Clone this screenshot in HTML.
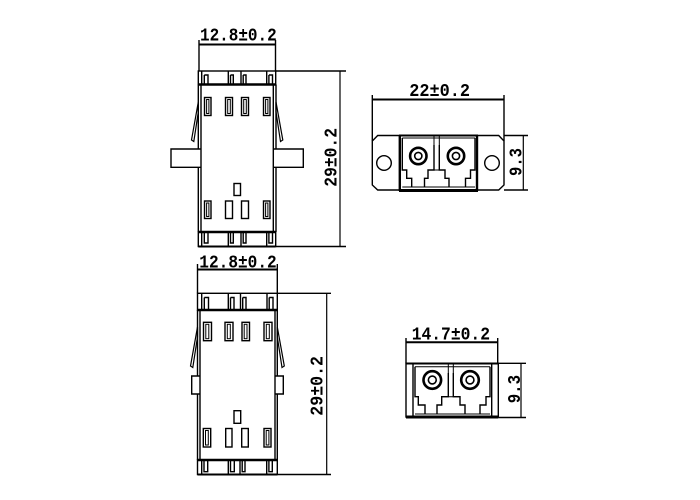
<!DOCTYPE html>
<html><head><meta charset="utf-8"><style>
html,body{margin:0;padding:0;background:#fff;}
svg{display:block;}
text{font-family:"Liberation Mono","DejaVu Sans Mono",monospace;font-size:18px;font-weight:bold;fill:#000;}
</style></head><body>
<svg width="700" height="500" viewBox="0 0 700 500" xmlns="http://www.w3.org/2000/svg">
<rect x="0" y="0" width="700" height="500" fill="#fff"/>

<!-- ================= VIEW A (top-left) ================= -->
<g fill="none" stroke="#000" stroke-width="1.4">
  <!-- dimension 12.8 -->
  <line x1="199" y1="40" x2="199" y2="71"/>
  <line x1="275.5" y1="40" x2="275.5" y2="71"/>
  <line x1="199" y1="44.5" x2="275.5" y2="44.5" stroke-width="2"/>
  <!-- top band -->
  <rect x="198.3" y="71" width="77.4" height="13.5"/>
  <line x1="198.3" y1="84.5" x2="275.7" y2="84.5" stroke-width="2.6"/>
  <!-- top notches -->
  <path d="M201.7,71.5 V84 M204.3,75 H208 V84 M204.3,75 V84"/>
  <path d="M228.3,71.5 V84 M230.5,75 H233.3 V84 M230.5,75 V84"/>
  <path d="M241,71.5 V84 M243.2,75 H246 V84 M243.2,75 V84"/>
  <path d="M266.7,71.5 V84 M268.9,75 H272.5 V84 M268.9,75 V84"/>
  <!-- body sides -->
  <path d="M198.3,84.5 V149 M198.3,167.3 V232"/>
  <path d="M201,84.5 V232"/>
  <path d="M276,84.5 V149 M276,167.3 V232"/>
  <path d="M273.3,84.5 V232"/>
  <!-- flanges -->
  <path d="M201,149 H171 V167.3 H201"/>
  <path d="M273.3,149 H303.3 V167.3 H273.3"/>
  <!-- clip arms -->
  <polygon points="198.3,102 191.5,140 193.8,141.5 198.3,112" stroke-width="1.2"/>
  <polygon points="276,102 282.8,140 280.5,141.5 276,112" stroke-width="1.2"/>
  <!-- slots top -->
  <rect x="204.5" y="97.5" width="6.5" height="18"/><rect x="206.6" y="99.5" width="2.3" height="14" stroke-width="1"/>
  <rect x="225.5" y="97.5" width="7" height="18"/><rect x="227.7" y="99.5" width="2.6" height="14" stroke-width="1"/>
  <rect x="241.5" y="97.5" width="7" height="18"/><rect x="243.7" y="99.5" width="2.6" height="14" stroke-width="1"/>
  <rect x="263.5" y="97.5" width="6.5" height="18"/><rect x="265.6" y="99.5" width="2.3" height="14" stroke-width="1"/>
  <!-- center small rect -->
  <rect x="234" y="183.5" width="6.5" height="12"/>
  <!-- slots bottom -->
  <rect x="204.5" y="201" width="6.5" height="17.5"/><rect x="206.6" y="203" width="2.3" height="13.5" stroke-width="1"/>
  <rect x="225.5" y="201" width="7" height="17.5"/>
  <rect x="241.5" y="201" width="7" height="17.5"/>
  <rect x="263.5" y="201" width="6.5" height="17.5"/><rect x="265.6" y="203" width="2.3" height="13.5" stroke-width="1"/>
  <!-- bottom band -->
  <rect x="198.3" y="232" width="77.4" height="14.5"/>
  <line x1="198.3" y1="232" x2="275.7" y2="232" stroke-width="2.6"/>
  <line x1="198.3" y1="246.5" x2="275.7" y2="246.5" stroke-width="2"/>
  <path d="M201.7,232 V245.5 M204.3,232 V243 H208 V232"/>
  <path d="M228.3,232 V245.5 M230.5,232 V243 H233.3 V232"/>
  <path d="M241,232 V245.5 M243.2,232 V243 H246 V232"/>
  <path d="M266.7,232 V245.5 M268.9,232 V243 H272.5 V232"/>
  <!-- dimension 29 -->
  <line x1="276" y1="71" x2="346" y2="71"/>
  <line x1="276" y1="246.5" x2="346" y2="246.5"/>
  <line x1="340" y1="71" x2="340" y2="246.5" stroke-width="1.2"/>
</g>
<text x="200" y="40.3" textLength="76.7" lengthAdjust="spacingAndGlyphs">12.8±0.2</text>
<text transform="translate(336.5,186.7) rotate(-90)" x="0" y="0" textLength="58.7" lengthAdjust="spacingAndGlyphs">29±0.2</text>

<!-- ================= VIEW B (bottom-left) ================= -->
<g fill="none" stroke="#000" stroke-width="1.4">
  <line x1="197.5" y1="264" x2="197.5" y2="293.3"/>
  <line x1="277.3" y1="264" x2="277.3" y2="293.3"/>
  <line x1="197.5" y1="269.5" x2="277.3" y2="269.5" stroke-width="2"/>
  <!-- top band -->
  <rect x="197.5" y="293.3" width="79.8" height="16.7"/>
  <line x1="197.5" y1="310" x2="277.3" y2="310" stroke-width="2.6"/>
  <path d="M201.7,294 V309 M204.3,297.5 H208.5 V309 M204.3,297.5 V309"/>
  <path d="M228.3,294 V309 M230.5,297.5 H234 V309 M230.5,297.5 V309"/>
  <path d="M240.5,294 V309 M242.7,297.5 H246 V309 M242.7,297.5 V309"/>
  <path d="M267,294 V309 M269.2,297.5 H273 V309 M269.2,297.5 V309"/>
  <!-- body sides -->
  <path d="M197.5,310 V376 M197.5,394 V460"/>
  <path d="M200,310 V460"/>
  <path d="M277.3,310 V376 M277.3,394 V460"/>
  <path d="M275,310 V460"/>
  <!-- stubs -->
  <path d="M200,376 H191.7 V394 H200"/>
  <path d="M275,376 H283.3 V394 H275"/>
  <!-- clip arms -->
  <polygon points="197.5,327 190.5,366 192.8,367.5 197.5,337" stroke-width="1.2"/>
  <polygon points="277.3,327 284.3,366 282,367.5 277.3,337" stroke-width="1.2"/>
  <!-- slots top -->
  <rect x="203.5" y="322.3" width="8" height="18.4"/><rect x="205.8" y="324.3" width="3" height="14.4" stroke-width="1"/>
  <rect x="225" y="322.3" width="8" height="18.4"/><rect x="227.3" y="324.3" width="3" height="14.4" stroke-width="1"/>
  <rect x="242" y="322.3" width="7.5" height="18.4"/><rect x="244.2" y="324.3" width="2.8" height="14.4" stroke-width="1"/>
  <rect x="264" y="322.3" width="8" height="18.4"/><rect x="266.3" y="324.3" width="3" height="14.4" stroke-width="1"/>
  <!-- small rect -->
  <rect x="234" y="410.7" width="6.7" height="12.6"/>
  <!-- slots bottom -->
  <rect x="203.3" y="428.5" width="7.4" height="18.5"/><rect x="205.5" y="430.5" width="2.8" height="14.5" stroke-width="1"/>
  <rect x="225.7" y="428.5" width="6.3" height="18.5"/>
  <rect x="241.7" y="428.5" width="6.6" height="18.5"/>
  <rect x="264" y="428.5" width="7" height="18.5"/><rect x="266.2" y="430.5" width="2.7" height="14.5" stroke-width="1"/>
  <!-- bottom band -->
  <rect x="197.5" y="460" width="79.8" height="14.5"/>
  <line x1="197.5" y1="460" x2="277.3" y2="460" stroke-width="2.6"/>
  <line x1="197.5" y1="474.5" x2="277.3" y2="474.5" stroke-width="2"/>
  <path d="M201.7,460 V473.5 M204,460 V471.7 H207.7 V460"/>
  <path d="M228.3,460 V473.5 M230.5,460 V471.7 H234.3 V460"/>
  <path d="M240,460 V473.5 M242.2,460 V471.7 H245 V460"/>
  <path d="M266.7,460 V473.5 M268.9,460 V471.7 H272.3 V460"/>
  <!-- dimension 29 -->
  <line x1="277.3" y1="293.3" x2="331" y2="293.3"/>
  <line x1="277.3" y1="474.5" x2="331" y2="474.5"/>
  <line x1="326.7" y1="293.3" x2="326.7" y2="474.5" stroke-width="1.2"/>
</g>
<text x="199.3" y="267.3" textLength="77.4" lengthAdjust="spacingAndGlyphs">12.8±0.2</text>
<text transform="translate(322.5,415.7) rotate(-90)" x="0" y="0" textLength="59.7" lengthAdjust="spacingAndGlyphs">29±0.2</text>

<!-- ================= VIEW C (top-right) ================= -->
<g fill="none" stroke="#000" stroke-width="1.4">
  <line x1="372.3" y1="95" x2="372.3" y2="141"/>
  <line x1="504" y1="95" x2="504" y2="141"/>
  <line x1="372.3" y1="99.5" x2="504" y2="99.5" stroke-width="2"/>
  <!-- plate -->
  <polygon points="377.7,135.5 498.7,135.5 504,141 504,185 498.7,190 377.7,190 372.3,185 372.3,141"/>
  <circle cx="384" cy="163" r="7.3"/>
  <circle cx="492" cy="163" r="7.3"/>
  <!-- housing -->
  <line x1="399.8" y1="135" x2="399.8" y2="191" stroke-width="2.4"/>
  <line x1="477" y1="135" x2="477" y2="191" stroke-width="2.4"/>
  <line x1="399" y1="135.5" x2="478" y2="135.5" stroke-width="2"/>
  <line x1="399" y1="190.5" x2="478" y2="190.5" stroke-width="3"/>
  <line x1="402.3" y1="138" x2="475" y2="138" stroke-width="1"/>
  <path d="M434,136 V145 M439.3,136 V145" stroke-width="1"/>
  <!-- ports -->
  <path d="M402.3,138 V170 H406.7 V178.3 H411.7 V187"/>
  <path d="M434,145 V170 H428 V178.3 H424.5 V187"/>
  <path d="M439.3,145 V170 H445 V178.3 H449 V187"/>
  <path d="M475,138 V170 H470.5 V178.3 H465.5 V187"/>
  <path d="M428,170 H445" stroke-width="1"/>
  <line x1="402.3" y1="187" x2="475" y2="187" stroke-width="1"/>
  <!-- ferrules -->
  <circle cx="418.3" cy="156" r="8.2" stroke-width="2.6"/>
  <circle cx="418.3" cy="156" r="3.6" stroke-width="1.6"/>
  <circle cx="456" cy="156" r="8.2" stroke-width="2.6"/>
  <circle cx="456" cy="156" r="3.6" stroke-width="1.6"/>
  <!-- dim 9.3 -->
  <line x1="504" y1="135.5" x2="528" y2="135.5"/>
  <line x1="504" y1="190" x2="528" y2="190"/>
  <line x1="523.3" y1="135.5" x2="523.3" y2="190" stroke-width="1.2"/>
</g>
<text x="409.3" y="96" textLength="60.7" lengthAdjust="spacingAndGlyphs">22±0.2</text>
<text transform="translate(521.5,176) rotate(-90)" x="0" y="0" textLength="28" lengthAdjust="spacingAndGlyphs">9.3</text>

<!-- ================= VIEW D (bottom-right) ================= -->
<g fill="none" stroke="#000" stroke-width="1.4">
  <line x1="406" y1="338" x2="406" y2="363.3"/>
  <line x1="497.7" y1="338" x2="497.7" y2="363.3"/>
  <line x1="406" y1="342.3" x2="497.7" y2="342.3" stroke-width="2"/>
  <!-- housing -->
  <rect x="406" y="363.3" width="92.3" height="53.7"/>
  <line x1="406" y1="363.5" x2="498.3" y2="363.5" stroke-width="2"/>
  <line x1="406" y1="417" x2="498.3" y2="417" stroke-width="3"/>
  <line x1="413" y1="363.3" x2="413" y2="417"/>
  <line x1="491.7" y1="363.3" x2="491.7" y2="417"/>
  <line x1="415" y1="366.7" x2="490" y2="366.7" stroke-width="1"/>
  <path d="M448.3,364 V373 M453.3,364 V373" stroke-width="1"/>
  <!-- ports -->
  <path d="M415,366.7 V396.7 H418.3 V405 H425 V414"/>
  <path d="M448.3,373 V396.7 H441.7 V405 H437 V414"/>
  <path d="M453.3,373 V396.7 H460 V405 H465 V414"/>
  <path d="M490,366.7 V396.7 H486 V405 H480 V414"/>
  <path d="M441.7,396.7 H460" stroke-width="1"/>
  <line x1="415" y1="414" x2="490" y2="414" stroke-width="1"/>
  <!-- ferrules -->
  <circle cx="432.3" cy="380" r="8.8" stroke-width="2.6"/>
  <circle cx="432.3" cy="380" r="3.9" stroke-width="1.6"/>
  <circle cx="470" cy="380" r="8.8" stroke-width="2.6"/>
  <circle cx="470" cy="380" r="3.9" stroke-width="1.6"/>
  <!-- dim 9.3 -->
  <line x1="498.3" y1="363.3" x2="526" y2="363.3"/>
  <line x1="498.3" y1="417.5" x2="526" y2="417.5"/>
  <line x1="521" y1="363.3" x2="521" y2="417.5" stroke-width="1.2"/>
</g>
<text x="411.7" y="339.3" textLength="78.3" lengthAdjust="spacingAndGlyphs">14.7±0.2</text>
<text transform="translate(520,403.3) rotate(-90)" x="0" y="0" textLength="28.3" lengthAdjust="spacingAndGlyphs">9.3</text>
</svg>
</body></html>
